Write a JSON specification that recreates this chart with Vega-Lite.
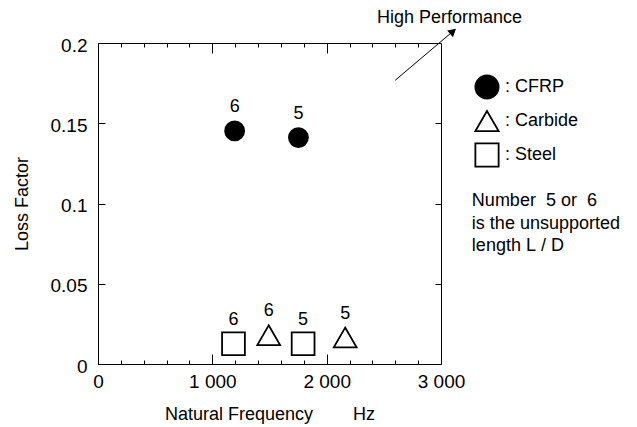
{
  "$schema": "https://vega.github.io/schema/vega-lite/v6.json",
  "width": 343,
  "height": 321,
  "autosize": "none",
  "padding": {"left": 98, "top": 43, "right": 196, "bottom": 63},
  "background": "white",
  "config": {
    "font": "Liberation Sans",
    "view": {"stroke": "black", "strokeWidth": 1},
    "axis": {
      "grid": false,
      "domain": false,
      "tickColor": "black",
      "tickWidth": 1,
      "labelColor": "black",
      "titleColor": "black",
      "labelFontSize": 19,
      "titleFontSize": 18,
      "titleFontWeight": "normal",
      "labelFont": "Liberation Sans",
      "titleFont": "Liberation Sans"
    },
    "legend": {"labelFont": "Liberation Sans"},
    "text": {"font": "Liberation Sans"}
  },
  "datasets": {
    "pts": [
      {"material": "CFRP", "freq": 1195, "loss": 0.1452, "LD": 6},
      {"material": "CFRP", "freq": 1753, "loss": 0.1411, "LD": 5},
      {"material": "Carbide", "freq": 1493, "loss": 0.0179, "LD": 6},
      {"material": "Carbide", "freq": 2162, "loss": 0.0165, "LD": 5},
      {"material": "Steel", "freq": 1185, "loss": 0.0126, "LD": 6},
      {"material": "Steel", "freq": 1794, "loss": 0.0126, "LD": 5}
    ],
    "notes": [
      {"x": 2440, "y": 0.2153, "text": "High Performance"},
      {"x": 3270, "y": 0.1015, "text": "Number\u00a0\u00a05 or\u00a0\u00a06"},
      {"x": 3270, "y": 0.0875, "text": "is the unsupported"},
      {"x": 3270, "y": 0.0735, "text": "length L\u00a0/\u00a0D"}
    ],
    "arrow": [
      {"x": 2600, "y": 0.1768, "x2": 3105, "y2": 0.2073}
    ]
  },
  "layer": [
    {
      "data": {"name": "pts"},
      "mark": {"type": "point", "filled": true, "strokeWidth": 1.8, "opacity": 1},
      "encoding": {
        "x": {
          "field": "freq", "type": "quantitative",
          "scale": {"domain": [0, 3000], "nice": false, "zero": true},
          "axis": {
            "orient": "bottom", "values": [0, 1000, 2000, 3000],
            "offset": -10, "tickSize": 10,
            "labelPadding": 8, "labelExpr": "replace(format(datum.value, ','), ',', ' ')",
            "labelFlush": false,
            "title": "Natural Frequency\u00a0\u00a0\u00a0\u00a0\u00a0\u00a0\u00a0\u00a0Hz", "titlePadding": 14
          }
        },
        "y": {
          "field": "loss", "type": "quantitative",
          "scale": {"domain": [0, 0.2], "nice": false, "zero": true},
          "axis": {
            "orient": "left", "values": [0, 0.05, 0.1, 0.15, 0.2],
            "offset": -7, "tickSize": 7,
            "labelPadding": 11, "labelOffset": 2, "format": "~g", "labelFlush": false,
            "title": "Loss Factor", "titlePadding": 19
          }
        },
        "shape": {
          "field": "material", "type": "nominal",
          "scale": {"domain": ["CFRP", "Carbide", "Steel"], "range": ["circle", "triangle-up", "square"]},
          "legend": {
            "orient": "none", "legendX": 376, "legendY": 31, "title": null,
            "symbolSize": 540, "rowPadding": 4, "labelOffset": 5,
            "labelExpr": "': ' + datum.label", "labelFontSize": 18, "labelColor": "black",
            "symbolStrokeWidth": 1.8
          }
        },
        "fill": {
          "field": "material", "type": "nominal",
          "scale": {"domain": ["CFRP", "Carbide", "Steel"], "range": ["black", "white", "white"]},
          "legend": {
            "orient": "none", "legendX": 376, "legendY": 31, "title": null,
            "symbolSize": 540, "rowPadding": 4, "labelOffset": 5,
            "labelExpr": "': ' + datum.label", "labelFontSize": 18, "labelColor": "black",
            "symbolStrokeWidth": 1.8
          }
        },
        "stroke": {
          "field": "material", "type": "nominal",
          "scale": {"domain": ["CFRP", "Carbide", "Steel"], "range": ["black", "black", "black"]},
          "legend": {
            "orient": "none", "legendX": 376, "legendY": 31, "title": null,
            "symbolSize": 540, "rowPadding": 4, "labelOffset": 5,
            "labelExpr": "': ' + datum.label", "labelFontSize": 18, "labelColor": "black",
            "symbolStrokeWidth": 1.8
          }
        },
        "size": {
          "condition": {"test": "datum.material === 'CFRP'", "value": 361},
          "value": 520
        }
      }
    },
    {
      "data": {"name": "pts"},
      "mark": {"type": "text", "fontSize": 18, "dy": -24, "color": "black"},
      "encoding": {
        "x": {
          "field": "freq", "type": "quantitative",
          "scale": {"domain": [0, 3000], "nice": false, "zero": true},
          "axis": {
            "orient": "bottom",
            "values": [200, 400, 600, 800, 1200, 1400, 1600, 1800, 2200, 2400, 2600, 2800],
            "offset": -4, "tickSize": 4, "labels": false, "title": null
          }
        },
        "y": {
          "field": "loss", "type": "quantitative",
          "scale": {"domain": [0, 0.2], "nice": false, "zero": true},
          "axis": {
            "orient": "right", "values": [0.05, 0.1, 0.15],
            "offset": -6, "tickSize": 6, "labels": false, "title": null
          }
        },
        "text": {"field": "LD", "type": "quantitative"}
      }
    },
    {
      "data": {"name": "notes"},
      "mark": {"type": "text", "fontSize": 18, "align": "left", "baseline": "middle", "color": "black"},
      "encoding": {
        "x": {
          "field": "x", "type": "quantitative",
          "scale": {"domain": [0, 3000], "nice": false, "zero": true},
          "axis": {
            "orient": "top",
            "values": [200, 400, 600, 800, 1200, 1400, 1600, 1800, 2200, 2400, 2600, 2800],
            "offset": -4, "tickSize": 4, "labels": false, "title": null
          }
        },
        "y": {
          "field": "y", "type": "quantitative",
          "scale": {"domain": [0, 0.2], "nice": false, "zero": true},
          "axis": null
        },
        "text": {"field": "text", "type": "nominal"}
      }
    },
    {
      "data": {"name": "arrow"},
      "mark": {"type": "rule", "color": "black", "strokeWidth": 1},
      "encoding": {
        "x": {
          "field": "x", "type": "quantitative",
          "scale": {"domain": [0, 3000], "nice": false, "zero": true},
          "axis": {
            "orient": "top", "values": [1000, 2000],
            "offset": -10, "tickSize": 10, "labels": false, "title": null
          }
        },
        "y": {
          "field": "y", "type": "quantitative",
          "scale": {"domain": [0, 0.2], "nice": false, "zero": true},
          "axis": null
        },
        "x2": {"field": "x2"},
        "y2": {"field": "y2"}
      }
    },
    {
      "data": {"name": "arrow"},
      "mark": {"type": "point", "shape": "triangle-up", "filled": true, "color": "black", "size": 80, "angle": 49.6, "opacity": 1},
      "encoding": {
        "x": {
          "field": "x2", "type": "quantitative",
          "scale": {"domain": [0, 3000], "nice": false, "zero": true},
          "axis": null
        },
        "y": {
          "field": "y2", "type": "quantitative",
          "scale": {"domain": [0, 0.2], "nice": false, "zero": true},
          "axis": null
        }
      }
    }
  ],
  "resolve": {"axis": {"x": "independent", "y": "independent"}}
}
